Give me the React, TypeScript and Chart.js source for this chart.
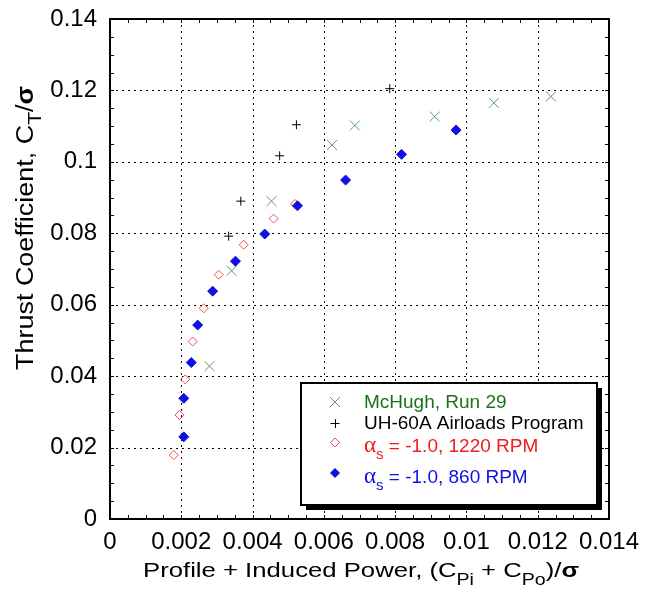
import React, { useEffect, useRef } from 'react';
import { Chart, registerables } from 'chart.js';
Chart.register(...registerables);

// ---- data ----
const xTickValues = [0, 0.002, 0.004, 0.006, 0.008, 0.01, 0.012, 0.014];
const xTickLabels = ['0', '0.002', '0.004', '0.006', '0.008', '0.01', '0.012', '0.014'];
const yTickValues = [0, 0.02, 0.04, 0.06, 0.08, 0.1, 0.12, 0.14];
const yTickLabels = ['0', '0.02', '0.04', '0.06', '0.08', '0.1', '0.12', '0.14'];
const xMinorStep = 0.0005;
const yMinorStep = 0.005;

const mcHughX = [0.00279, 0.00341, 0.00453, 0.00623, 0.00687, 0.00911, 0.01077, 0.01237];
const mcHughY = [0.0428, 0.0695, 0.089, 0.1047, 0.1102, 0.1127, 0.1165, 0.1183];

const uh60X = [0.00333, 0.00367, 0.00476, 0.00523, 0.00785];
const uh60Y = [0.0792, 0.089, 0.1017, 0.1104, 0.1205];

const rpm1220X = [0.00179, 0.00195, 0.00211, 0.00232, 0.00263, 0.00305, 0.00375, 0.00459, 0.00519];
const rpm1220Y = [0.0179, 0.0291, 0.0391, 0.0497, 0.059, 0.0684, 0.0768, 0.0841, 0.0882];

const rpm860X = [0.00207, 0.00207, 0.00228, 0.00246, 0.00288, 0.00352, 0.00434, 0.00526, 0.00661, 0.00818, 0.00971];
const rpm860Y = [0.023, 0.0338, 0.0438, 0.0543, 0.0638, 0.0722, 0.0798, 0.0877, 0.0949, 0.1021, 0.1089];

const seriesNames = ['McHugh, Run 29', 'UH-60A Airloads Program', ' = -1.0, 1220 RPM', ' = -1.0, 860 RPM'];

const zip = (xs: number[], ys: number[]) => xs.map((x, i) => ({ x, y: ys[i] }));

const GREEN_TXT = '#1a731a';
const GREEN_MK = '#5e9e5e';
const RED = '#ee1c1c';
const RED_MK = '#f05050';
const BLUE = '#1010e0';
const FONT = "'Liberation Sans', Arial, sans-serif";

type Seg = { t: string; sub?: boolean; bold?: boolean; greek?: boolean };

function drawSegs(
  ctx: CanvasRenderingContext2D,
  segs: Seg[],
  x: number,
  y: number,
  size: number,
  align: 'left' | 'center',
  targetWidth?: number,
) {
  const subSize = Math.round(size * 0.78);
  const fontFor = (s: Seg) => {
    if (s.sub) return `${subSize}px ${FONT}`;
    if (s.greek) return `${size + 4}px 'Liberation Serif', serif`;
    if (s.bold) return `bold ${size}px ${FONT}`;
    return `${size}px ${FONT}`;
  };
  let total = 0;
  for (const s of segs) {
    ctx.font = fontFor(s);
    total += ctx.measureText(s.t).width;
  }
  const sx = targetWidth ? targetWidth / total : 1;
  ctx.save();
  ctx.translate(x, y);
  ctx.scale(sx, 1);
  let cx = align === 'center' ? -total / 2 : 0;
  ctx.textAlign = 'left';
  ctx.textBaseline = 'alphabetic';
  for (const s of segs) {
    ctx.font = fontFor(s);
    ctx.fillText(s.t, cx, s.sub ? Math.round(size * 0.36) : 0);
    cx += ctx.measureText(s.t).width;
  }
  ctx.restore();
}

const framePlugin = {
  id: 'frameAndDecor',
  beforeDatasetsDraw(chart: any) {
    const { ctx, chartArea } = chart;
    const { left, right, top, bottom } = chartArea;
    const xs = chart.scales.x;
    const ys = chart.scales.y;
    ctx.save();
    ctx.strokeStyle = '#000';
    ctx.lineWidth = 1;
    ctx.setLineDash([2, 4]);
    for (const v of xTickValues) {
      const px = Math.round(xs.getPixelForValue(v)) + 0.5;
      if (px <= left + 2 || px >= right - 2) continue;
      ctx.beginPath();
      ctx.moveTo(px, top);
      ctx.lineTo(px, bottom);
      ctx.stroke();
    }
    for (const v of yTickValues) {
      const py = Math.round(ys.getPixelForValue(v)) + 0.5;
      if (py <= top + 2 || py >= bottom - 2) continue;
      ctx.beginPath();
      ctx.moveTo(left, py);
      ctx.lineTo(right, py);
      ctx.stroke();
    }
    ctx.setLineDash([]);
    // minor ticks (inward, all four sides)
    const tl = 4;
    const nx = Math.round(0.014 / xMinorStep);
    for (let i = 0; i <= nx; i++) {
      const px = Math.round(xs.getPixelForValue(i * xMinorStep)) + 0.5;
      ctx.beginPath();
      ctx.moveTo(px, bottom);
      ctx.lineTo(px, bottom - tl);
      ctx.moveTo(px, top);
      ctx.lineTo(px, top + tl);
      ctx.stroke();
    }
    const ny = Math.round(0.14 / yMinorStep);
    for (let i = 0; i <= ny; i++) {
      const py = Math.round(ys.getPixelForValue(i * yMinorStep)) + 0.5;
      ctx.beginPath();
      ctx.moveTo(left, py);
      ctx.lineTo(left + tl, py);
      ctx.moveTo(right, py);
      ctx.lineTo(right - tl, py);
      ctx.stroke();
    }
    ctx.lineWidth = 2;
    ctx.strokeRect(left, top, right - left, bottom - top);
    ctx.restore();
  },
  afterDraw(chart: any) {
    const { ctx } = chart;
    ctx.save();
    ctx.fillStyle = '#000';
    // x title
    drawSegs(ctx, [
      { t: 'Profile + Induced Power, (C' },
      { t: 'Pi', sub: true },
      { t: ' + C' },
      { t: 'Po', sub: true },
      { t: ')/' },
      { t: 'σ', bold: true },
    ], 361, 577, 21, 'center', 436);
    // y title
    ctx.save();
    ctx.translate(33, 228);
    ctx.rotate(-Math.PI / 2);
    drawSegs(ctx, [
      { t: 'Thrust Coefficient, C' },
      { t: 'T', sub: true },
      { t: '/' },
      { t: 'σ', bold: true },
    ], 0, 0, 23, 'center', 284);
    ctx.restore();

    // legend box
    const bx = 301, by = 383, bw = 296, bh = 122;
    ctx.fillStyle = '#000';
    ctx.fillRect(bx + 5, by + 5, bw, bh);
    ctx.fillStyle = '#fff';
    ctx.fillRect(bx, by, bw, bh);
    ctx.strokeStyle = '#000';
    ctx.lineWidth = 2;
    ctx.strokeRect(bx, by, bw, bh);

    const mx = 335;
    const tx = 364;
    // McHugh marker (x)
    ctx.lineWidth = 1;
    ctx.strokeStyle = GREEN_MK;
    ctx.beginPath();
    ctx.moveTo(mx - 5, 397); ctx.lineTo(mx + 5, 407);
    ctx.moveTo(mx - 5, 407); ctx.lineTo(mx + 5, 397);
    ctx.stroke();
    ctx.fillStyle = GREEN_TXT;
    drawSegs(ctx, [{ t: seriesNames[0] }], tx, 408, 19, 'left');
    // UH-60A marker (+)
    ctx.strokeStyle = '#000';
    ctx.beginPath();
    ctx.moveTo(mx - 4.5, 423.5); ctx.lineTo(mx + 4.5, 423.5);
    ctx.moveTo(mx + 0.5, 419); ctx.lineTo(mx + 0.5, 428);
    ctx.stroke();
    ctx.fillStyle = '#000';
    drawSegs(ctx, [{ t: seriesNames[1] }], tx, 429, 19, 'left');
    // 1220 marker (open diamond)
    ctx.strokeStyle = RED_MK;
    ctx.beginPath();
    ctx.moveTo(mx, 438); ctx.lineTo(mx + 4.5, 442.5); ctx.lineTo(mx, 447); ctx.lineTo(mx - 4.5, 442.5); ctx.closePath();
    ctx.stroke();
    ctx.fillStyle = RED;
    drawSegs(ctx, [{ t: 'α', greek: true }, { t: 's', sub: true }, { t: seriesNames[2] }], tx, 452, 19, 'left');
    // 860 marker (filled diamond)
    ctx.fillStyle = BLUE;
    ctx.beginPath();
    ctx.moveTo(mx, 468); ctx.lineTo(mx + 5, 473); ctx.lineTo(mx, 478); ctx.lineTo(mx - 5, 473); ctx.closePath();
    ctx.fill();
    drawSegs(ctx, [{ t: 'α', greek: true }, { t: 's', sub: true }, { t: seriesNames[3] }], tx, 483, 19, 'left');
    ctx.restore();
  },
};

export default function App() {
  const ref = useRef<HTMLCanvasElement | null>(null);
  useEffect(() => {
    document.body.style.margin = '0';
    if (!ref.current) return;
    const chart = new Chart(ref.current, {
      type: 'scatter',
      data: {
        datasets: [
          {
            label: seriesNames[3],
            data: zip(rpm860X, rpm860Y),
            pointStyle: 'rectRot',
            pointRadius: 5,
            backgroundColor: BLUE,
            borderColor: BLUE,
            borderWidth: 1,
          },
          {
            label: seriesNames[1],
            data: zip(uh60X, uh60Y),
            pointStyle: 'cross',
            pointRadius: 4.5,
            borderColor: '#000',
            backgroundColor: '#000',
            borderWidth: 1,
          },
          {
            label: seriesNames[0],
            data: zip(mcHughX, mcHughY),
            pointStyle: 'crossRot',
            pointRadius: 7,
            borderColor: GREEN_MK,
            backgroundColor: GREEN_MK,
            borderWidth: 1,
          },
          {
            label: seriesNames[2],
            data: zip(rpm1220X, rpm1220Y),
            pointStyle: 'rectRot',
            pointRadius: 4.5,
            borderColor: RED_MK,
            backgroundColor: 'rgba(0,0,0,0)',
            borderWidth: 1,
          },
        ],
      },
      options: {
        animation: false,
        responsive: false,
        events: [],
        layout: { padding: { left: 0, right: 41, top: 19, bottom: 0 } },
        plugins: { legend: { display: false }, tooltip: { enabled: false } },
        scales: {
          x: {
            type: 'linear',
            min: 0,
            max: 0.014,
            afterBuildTicks: (s: any) => { s.ticks = xTickValues.map((v) => ({ value: v })); },
            afterFit: (s: any) => {
              s.height = 81;
              s.paddingLeft = 0; s.paddingRight = 0; s.paddingTop = 0; s.paddingBottom = 0;
            },
            grid: { display: false, drawTicks: false },
            border: { display: false },
            ticks: {
              autoSkip: false,
              maxRotation: 0,
              padding: 9,
              color: '#000',
              font: { family: FONT, size: 24 },
              callback: (_v: any, i: number) => xTickLabels[i],
            },
          },
          y: {
            type: 'linear',
            min: 0,
            max: 0.14,
            afterBuildTicks: (s: any) => { s.ticks = yTickValues.map((v) => ({ value: v })); },
            afterFit: (s: any) => {
              s.width = 110;
              s.paddingLeft = 0; s.paddingRight = 0; s.paddingTop = 0; s.paddingBottom = 0;
            },
            grid: { display: false, drawTicks: false },
            border: { display: false },
            ticks: {
              autoSkip: false,
              padding: 13,
              color: '#000',
              font: { family: FONT, size: 24 },
              callback: (_v: any, i: number) => yTickLabels[i],
            },
          },
        },
      },
      plugins: [framePlugin],
    } as any);
    return () => chart.destroy();
  }, []);
  return (
    <div style={{ width: 650, height: 600 }}>
      <canvas ref={ref} width={650} height={600} style={{ display: 'block' }} />
    </div>
  );
}
